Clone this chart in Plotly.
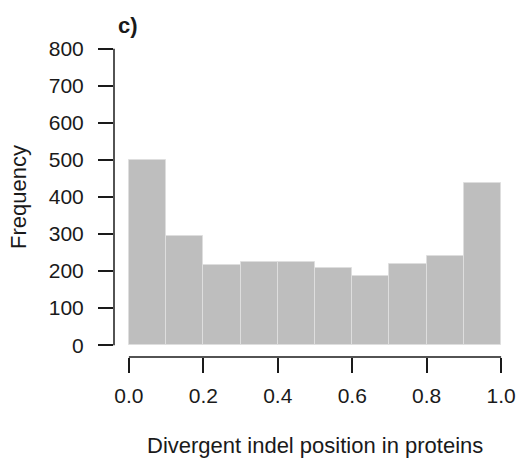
import plotly.graph_objects as go

# Histogram of divergent indel positions (relative position in protein)
bin_edges = [0.0, 0.1, 0.2, 0.3, 0.4, 0.5, 0.6, 0.7, 0.8, 0.9, 1.0]
counts = [500, 295, 217, 224, 225, 207, 188, 218, 240, 437]

x_ticks = [0.0, 0.2, 0.4, 0.6, 0.8, 1.0]
x_tick_labels = ["0.0", "0.2", "0.4", "0.6", "0.8", "1.0"]
y_ticks = [0, 100, 200, 300, 400, 500, 600, 700, 800]

panel_label = "c)"
x_title = "Divergent indel position in proteins"
y_title = "Frequency"

centers = [(a + b) / 2 for a, b in zip(bin_edges[:-1], bin_edges[1:])]
widths = [b - a for a, b in zip(bin_edges[:-1], bin_edges[1:])]

FONT = "Liberation Sans, Arial, sans-serif"
INK = "#1a1a1a"

fig = go.Figure(
    go.Bar(
        x=centers,
        y=counts,
        width=widths,
        marker=dict(color="#bebebe", line=dict(color="#dedede", width=1)),
        hoverinfo="x+y",
    )
)

# R-style range padding (4% on each side)
x_lo, x_hi = bin_edges[0], bin_edges[-1]
y_lo, y_hi = y_ticks[0], y_ticks[-1]
xpad = 0.04 * (x_hi - x_lo)
ypad = 0.04 * (y_hi - y_lo)

fig.update_xaxes(
    range=[x_lo - xpad, x_hi + xpad],
    tickvals=x_ticks,
    ticktext=x_tick_labels,
    ticks="outside",
    ticklen=15,
    tickwidth=1.5,
    tickcolor=INK,
    showline=False,
    showgrid=False,
    zeroline=False,
    tickfont=dict(family=FONT, size=21, color=INK),
    ticklabelstandoff=5,
)
fig.update_yaxes(
    range=[y_lo - ypad, y_hi + ypad],
    tickvals=y_ticks,
    ticks="outside",
    ticklen=15,
    tickwidth=1.5,
    tickcolor=INK,
    showline=False,
    showgrid=False,
    zeroline=False,
    tickfont=dict(family=FONT, size=21, color=INK),
    ticklabelstandoff=10,
)

# Axis lines spanning only the tick range
fig.add_shape(type="line", xref="paper", yref="y", x0=0, x1=0, y0=y_lo, y1=y_hi,
              line=dict(color=INK, width=1.5))
fig.add_shape(type="line", xref="x", yref="paper", x0=x_lo, x1=x_hi, y0=0, y1=0,
              line=dict(color=INK, width=1.5))

fig.add_annotation(text=f"<b>{panel_label}</b>", xref="paper", yref="paper", x=0, y=1,
                   xanchor="left", yanchor="middle", xshift=2, yshift=12, showarrow=False,
                   font=dict(family=FONT, size=22, color=INK))
fig.add_annotation(text=y_title, xref="paper", yref="paper", x=0, y=0.5, textangle=-90,
                   xanchor="center", yanchor="middle", xshift=-96, showarrow=False,
                   font=dict(family=FONT, size=22, color=INK))
fig.add_annotation(text=x_title, xref="paper", yref="paper", x=0.5, y=0,
                   xanchor="center", yanchor="middle", yshift=-88, showarrow=False,
                   font=dict(family=FONT, size=22, color=INK))

fig.update_layout(
    width=520,
    height=466,
    margin=dict(l=114, r=4, t=37, b=109),
    paper_bgcolor="white",
    plot_bgcolor="white",
    showlegend=False,
    bargap=0,
)

fig.write_html("out.html")
